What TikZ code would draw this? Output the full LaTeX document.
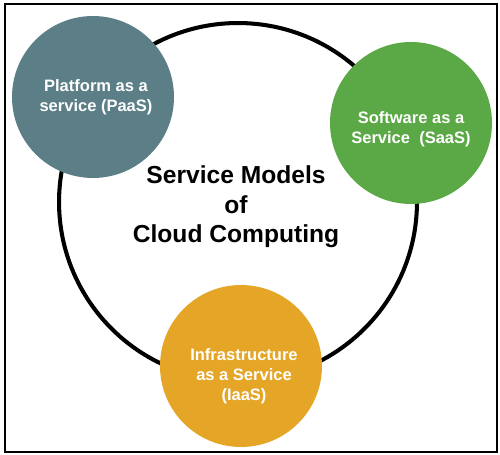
\documentclass[tikz,border=0pt]{standalone}
\usepackage{fontspec}
\setmainfont{Liberation Sans}
\usepackage{xcolor}
\usetikzlibrary{positioning}
\definecolor{paascol}{HTML}{5B7E87}
\definecolor{saascol}{HTML}{5BA846}
\definecolor{iaascol}{HTML}{E5A526}
\begin{document}
\begin{tikzpicture}[
    x=0.02cm, y=-0.02cm,
    ring/.style={circle, draw=black, line width=2.3pt, minimum size=7.16cm, inner sep=0pt},
    model/.style={circle, minimum size=3.24cm, inner sep=0pt},
    modeltext/.style={align=center, text=white, font=\fontsize{9.4}{11.4}\selectfont\bfseries},
    title/.style={align=center, font=\fontsize{14}{16.9}\selectfont\bfseries},
]
\useasboundingbox (0,0) rectangle (500,455);
\draw[line width=0.8pt] (5,4) rectangle (497,452);
\node[ring] (ring) at (238,202) {};
\node[title] (models) at (236,207) {Service Models\\of\\Cloud Computing};
\node[model, fill=paascol, label={[modeltext, xshift=0.06cm]center:Platform as a\\service (PaaS)}] (paas) at (93,97) {};
\node[model, fill=saascol, label={[modeltext, yshift=-0.12cm]center:Software as a\\Service\ \ (SaaS)}] (saas) at (411,123) {};
\node[model, fill=iaascol, label={[modeltext, xshift=0.06cm, yshift=-0.2cm]center:Infrastructure\\as a Service\\(IaaS)}] (iaas) at (241,366) {};
\end{tikzpicture}
\end{document}
